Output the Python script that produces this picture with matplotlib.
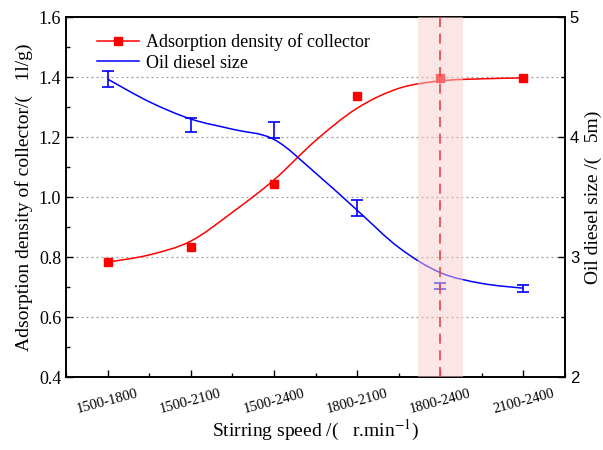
import numpy as np
import matplotlib
matplotlib.use("Agg")
import matplotlib.pyplot as plt
from matplotlib.ticker import MultipleLocator
from matplotlib.path import Path
from matplotlib.patches import PathPatch

plt.rcParams['font.family'] = ['Liberation Serif', 'DejaVu Serif']
plt.rcParams['mathtext.fontset'] = 'stix'

# categories (stirring speed ranges)
speeds = ['1500-1800', '1500-2100', '1500-2400', '1800-2100', '1800-2400', '2100-2400']

# adsorption density of collector (left axis)
adsorption = [0.783, 0.834, 1.043, 1.337, 1.396, 1.397]

# oil diesel size (right axis) with error
diesel = [4.483, 4.10, 4.056, 3.41, 2.756, 2.736]
diesel_err = [0.069, 0.057, 0.067, 0.065, 0.025, 0.03]

# fitted curves read at half-category steps
fit_pos = [0, 0.5, 1, 1.5, 2, 2.5, 3, 3.5, 4, 4.5, 5]
adsorption_fit = [0.783, 0.807, 0.853, 0.949, 1.057, 1.188, 1.296, 1.362, 1.387, 1.394, 1.397]
diesel_fit = [4.483, 4.294, 4.15, 4.065, 3.98, 3.70, 3.39, 3.08, 2.87, 2.78, 2.74]

# highlighted region
band = (3.73, 4.27)
best = 4


def smooth_curve(a, xs, ys, color):
    # spline-style connection (Catmull-Rom drawn as bezier segments)
    p = np.column_stack([xs, ys])
    verts = [p[0]]
    codes = [Path.MOVETO]
    for i in range(len(p) - 1):
        p0 = p[i - 1] if i > 0 else p[i]
        p3 = p[i + 2] if i + 2 < len(p) else p[i + 1]
        c1 = p[i] + (p[i + 1] - p0) / 6
        c2 = p[i + 1] - (p3 - p[i]) / 6
        verts += [c1, c2, p[i + 1]]
        codes += [Path.CURVE4] * 3
    a.add_patch(PathPatch(Path(verts, codes), fill=False, edgecolor=color,
                          lw=1.1, zorder=3))


x = np.arange(len(speeds))

fig = plt.figure(figsize=(6.03, 4.5), dpi=100)
ax = fig.add_axes([0.1095, 0.1622, 0.8275, 0.80])
ax2 = ax.twinx()

smooth_curve(ax, fit_pos, adsorption_fit, 'red')
ax.plot(x, adsorption, 's', color='red', ms=6, zorder=4)

smooth_curve(ax2, fit_pos, diesel_fit, 'blue')
ax2.errorbar(x, diesel, yerr=diesel_err, fmt='none', ecolor='blue',
             elinewidth=1.2, capsize=4, capthick=1.2, zorder=4)

ax2.axvspan(band[0], band[1], color='#f9cccc', alpha=0.5, lw=0, zorder=5)
ax2.axvline(best, color='#e8454a', ls=(0, (6, 4)), lw=1.2, zorder=6)

ax.set_xlim(-0.5, 5.5)
ax.set_ylim(0.4, 1.6)
ax2.set_ylim(2, 5)

ax.set_xticks(x)
ax.set_xticklabels(speeds, rotation=15, ha='center', fontsize=10.5,
                   fontfamily='Liberation Serif')
ax.xaxis.set_minor_locator(MultipleLocator(0.5))
ax.yaxis.set_major_locator(MultipleLocator(0.2))
ax.yaxis.set_minor_locator(MultipleLocator(0.1))
ax2.yaxis.set_major_locator(MultipleLocator(1))
ax2.yaxis.set_minor_locator(MultipleLocator(0.5))

ax.tick_params(axis='both', which='both', direction='in', top=False)
ax.tick_params(axis='both', which='major', length=5, width=1)
ax.tick_params(axis='both', which='minor', length=3, width=1)
ax.tick_params(axis='x', pad=7)
ax.tick_params(axis='y', labelsize=13, labelfontfamily='Liberation Serif')
ax2.tick_params(axis='y', which='both', direction='in', width=1,
                labelfontfamily='Liberation Sans')
ax2.tick_params(axis='y', which='major', length=5, labelsize=12)
ax2.tick_params(axis='y', which='minor', length=3)

for a in (ax, ax2):
    for s in a.spines.values():
        s.set_linewidth(1.2)

ax.grid(axis='y', which='major', ls=(0, (1.5, 2.5)), color='#999999', lw=0.9)
ax.set_axisbelow(True)

ax.set_xlabel('Stirring speed /(   r.min$^{-1}$)', fontsize=14, labelpad=2)
ax.set_ylabel('Adsorption density of collector/(   1l/g)', fontsize=14, labelpad=4)
ax2.set_ylabel('Oil diesel size /(   5m)', fontsize=14, labelpad=4)

h1, = ax.plot([], [], '-s', color='red', ms=6, lw=1.1)
h2, = ax.plot([], [], '-', color='blue', lw=1.1)
ax.legend([h1, h2], ['Adsorption density of collector', 'Oil diesel size'],
          loc='upper left', bbox_to_anchor=(0.03, 1.0), frameon=False,
          fontsize=13, handlelength=2.3, handletextpad=0.4, labelspacing=0.2)

fig.savefig('out.png', dpi=100)
